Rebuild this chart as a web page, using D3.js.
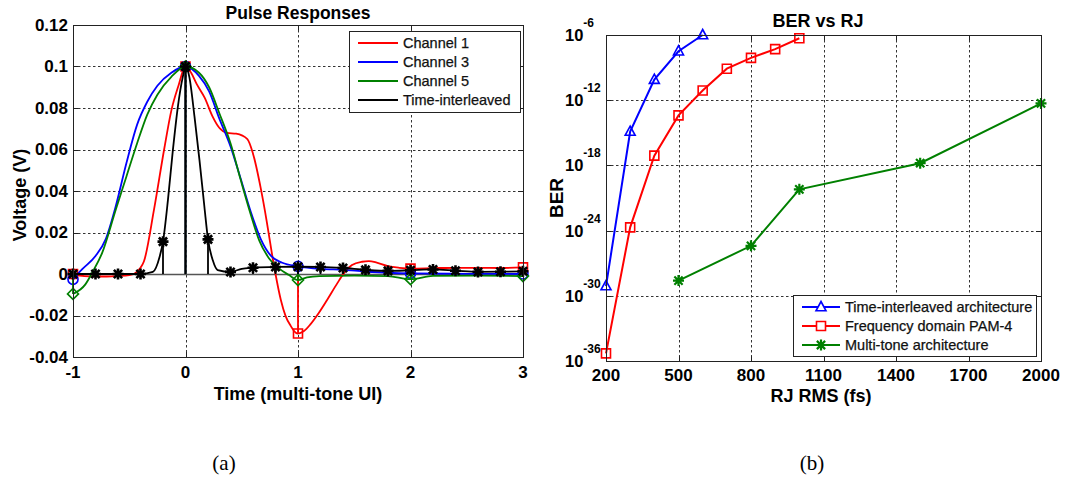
<!DOCTYPE html>
<html>
<head>
<meta charset="utf-8">
<script src="https://cdn.jsdelivr.net/npm/d3@7"></script>
<style>
body{margin:0;background:#fff;}
svg text{font-family:"Liberation Sans",Arial,sans-serif;}
</style>
</head>
<body>
<div id="viz-container"></div>
<script>
// ---- (a) pulse responses ----
let ch1Time = [-1,-0.9,-0.8,-0.7,-0.6,-0.5,-0.46,-0.4,-0.37,-0.28,-0.19,-0.125,-0.064,0,0.05,0.1,0.17,0.24,0.3,0.37,0.45,0.55,0.6,0.67,0.72,0.75,0.78,0.8,0.847,0.89,0.935,0.98,1,1.053,1.11,1.186,1.26,1.35,1.407,1.48,1.57,1.63,1.7,1.8,1.9,2,2.2,2.4,2.6,2.8,3];
let ch1Volt = [0,-0.001,-0.0012,-0.0012,-0.001,-0.0005,0,0.003,0.006,0.031,0.06,0.079,0.0905,0.1,0.097,0.0915,0.085,0.076,0.0705,0.068,0.0676,0.065,0.058,0.041,0.026,0.016,0.006,0,-0.0124,-0.0203,-0.025,-0.0283,-0.0287,-0.0275,-0.0243,-0.0187,-0.0124,-0.0044,0.0003,0.0043,0.0059,0.0062,0.0055,0.0038,0.003,0.0026,0.0028,0.003,0.003,0.0029,0.0032];

let ch3Time = [-1,-0.92,-0.8,-0.71,-0.62,-0.525,-0.43,-0.34,-0.25,-0.126,0,0.12,0.21,0.3,0.4,0.49,0.58,0.67,0.76,0.86,1,1.2,1.4,1.6,1.8,2,2.5,3];
let ch3Volt = [-0.0026,0.0022,0.0087,0.0167,0.0327,0.0535,0.072,0.083,0.0907,0.097,0.1,0.0955,0.088,0.075,0.0615,0.046,0.03,0.0167,0.0087,0.0054,0.0037,0.0025,0.002,0.0012,0.0006,0.0003,0.0001,0];

let ch5Time = [-1,-0.89,-0.83,-0.74,-0.62,-0.525,-0.43,-0.34,-0.25,-0.126,0,0.12,0.21,0.3,0.4,0.49,0.58,0.655,0.743,0.83,0.92,1,1.08,1.19,1.5,1.8,2,2.2,2.6,3];
let ch5Volt = [-0.0096,-0.005,0.0006,0.0103,0.031,0.047,0.063,0.0768,0.0864,0.095,0.1,0.097,0.09,0.0776,0.063,0.0455,0.0287,0.0162,0.0075,0.0027,-0.0005,-0.0029,-0.0016,-0.001,-0.0008,-0.001,-0.0025,-0.0009,-0.0008,-0.001];

let tiTime = [-1,-0.8,-0.6,-0.4,-0.29,-0.23,-0.2,-0.156,-0.112,-0.068,-0.024,0,0.034,0.08,0.124,0.168,0.2,0.242,0.286,0.4,0.5,0.6,0.8,1,1.2,1.4,1.6,1.8,2,2.2,2.4,2.6,2.8,3];
let tiVolt = [0,0,0,0,0.001,0.0083,0.0156,0.0357,0.0598,0.0806,0.095,0.1,0.095,0.0758,0.055,0.0324,0.0167,0.0067,0.0019,0.001,0.0025,0.003,0.0034,0.0035,0.0034,0.0029,0.002,0.0015,0.0018,0.0022,0.0016,0.001,0.0011,0.0013];

let chMarkTimes = [-1,0,1,2,3];
let tiMarkTimes = [-1,-0.8,-0.6,-0.4,-0.2,0,0.2,0.4,0.6,0.8,1,1.2,1.4,1.6,1.8,2,2.2,2.4,2.6,2.8,3];
let pulseXTicks = [-1,0,1,2,3];
let pulseYTicks = [-0.04,-0.02,0,0.02,0.04,0.06,0.08,0.1,0.12];
let pulseYLabels = ["-0.04","-0.02","0","0.02","0.04","0.06","0.08","0.1","0.12"];
let pulseNames = ["Channel 1","Channel 3","Channel 5","Time-interleaved"];

// ---- (b) BER vs RJ ----
let tiRJ = [200,300,400,500,600];
let tiBER = [7.9e-30,1.3e-15,7.9e-11,3.2e-8,1e-6];
let pamRJ = [200,300,400,500,600,700,800,900,1000];
let pamBER = [5e-36,2e-24,7.9e-18,4e-14,7.9e-12,7.9e-10,7.9e-9,5e-8,5e-7];
let mtRJ = [500,800,1000,1500,2000];
let mtBER = [2.5e-29,4e-26,6.3e-21,1.6e-18,5e-13];
let berXTicks = [200,500,800,1100,1400,1700,2000];
let berYTicks = [1e-36,1e-30,1e-24,1e-18,1e-12,1e-6];
let berYExp = ["-36","-30","-24","-18","-12","-6"];
let berNames = ["Time-interleaved architecture","Frequency domain PAM-4","Multi-tone architecture"];

let viz = d3.select("#viz-container")
    .append("svg")
        .attr("width", 1070)
        .attr("height", 480)
        .style("background-color", "white");

// marker shapes
let shapes = {
    square: s => `M${-s},${-s}H${s}V${s}H${-s}Z`,
    circle: s => `M${-s},0A${s},${s} 0 1,0 ${s},0A${s},${s} 0 1,0 ${-s},0`,
    diamond: s => `M0,${-s}L${s},0L0,${s}L${-s},0Z`,
    triangle: s => `M0,${-s * 1.1}L${s},${s * 0.75}L${-s},${s * 0.75}Z`,
    star: s => `M0,${-s}V${s}M${-s},0H${s}M${-s * 0.75},${-s * 0.75}L${s * 0.75},${s * 0.75}M${-s * 0.75},${s * 0.75}L${s * 0.75},${-s * 0.75}`
};

function drawFrame(g, x, y, xTicks, yTicks) {
    let [x0, x1] = x.range(), [y0, y1] = y.range();
    // dotted grid
    g.selectAll(".vgrid").data(xTicks.slice(1, -1)).enter().append("line")
        .attr("x1", d => Math.round(x(d)) + 0.5).attr("x2", d => Math.round(x(d)) + 0.5)
        .attr("y1", y1).attr("y2", y0)
        .attr("stroke", "#333").attr("stroke-dasharray", "2.5,2.5");
    g.selectAll(".hgrid").data(yTicks.slice(1, -1)).enter().append("line")
        .attr("y1", d => Math.round(y(d)) + 0.5).attr("y2", d => Math.round(y(d)) + 0.5)
        .attr("x1", x0).attr("x2", x1)
        .attr("stroke", "#333").attr("stroke-dasharray", "2.5,2.5");
    // inward ticks on all four sides
    xTicks.forEach(d => {
        let px = Math.round(x(d)) + 0.5;
        g.append("line").attr("x1", px).attr("x2", px).attr("y1", y0).attr("y2", y0 - 5).attr("stroke", "#222");
        g.append("line").attr("x1", px).attr("x2", px).attr("y1", y1).attr("y2", y1 + 5).attr("stroke", "#222");
    });
    yTicks.forEach(d => {
        let py = Math.round(y(d)) + 0.5;
        g.append("line").attr("y1", py).attr("y2", py).attr("x1", x0).attr("x2", x0 + 5).attr("stroke", "#222");
        g.append("line").attr("y1", py).attr("y2", py).attr("x1", x1).attr("x2", x1 - 5).attr("stroke", "#222");
    });
}

function drawBox(g, x, y) {
    let [x0, x1] = x.range(), [y0, y1] = y.range();
    g.append("rect")
        .attr("x", Math.round(x0) + 0.5).attr("y", Math.round(y1) + 0.5)
        .attr("width", Math.round(x1 - x0)).attr("height", Math.round(y0 - y1))
        .attr("fill", "none").attr("stroke", "#222");
}

// ================= (a) =================
let px = d3.scaleLinear().domain([-1, 3]).range([73, 523]);
let py = d3.scaleLinear().domain([-0.04, 0.12]).range([357, 25]);
let ga = viz.append("g");

drawFrame(ga, px, py, pulseXTicks, pulseYTicks);

// stem baseline
ga.append("line")
    .attr("x1", px(-1)).attr("x2", px(3))
    .attr("y1", Math.round(py(0)) + 0.5).attr("y2", Math.round(py(0)) + 0.5)
    .attr("stroke", "#555").attr("stroke-width", 1.3);

let pulseSeries = [
    {t: ch1Time, v: ch1Volt, marks: chMarkTimes, color: "#ff0000", shape: "square", size: 4.5},
    {t: ch3Time, v: ch3Volt, marks: chMarkTimes, color: "#0000ff", shape: "circle", size: 5},
    {t: ch5Time, v: ch5Volt, marks: chMarkTimes, color: "#008000", shape: "diamond", size: 5.5},
    {t: tiTime, v: tiVolt, marks: tiMarkTimes, color: "#000000", shape: "star", size: 5.5}
];

let pulseLine = d3.line()
    .x(d => px(d[0]))
    .y(d => py(d[1]))
    .curve(d3.curveMonotoneX);

pulseSeries.forEach(s => {
    let pts = s.t.map((t, i) => [t, s.v[i]]);
    let markPts = s.marks.map(m => pts.find(p => Math.abs(p[0] - m) < 1e-6));
    ga.append("path")
        .attr("d", pulseLine(pts))
        .attr("fill", "none").attr("stroke", s.color).attr("stroke-width", 1.8);
    // stems
    ga.selectAll(null).data(markPts).enter().append("line")
        .attr("x1", d => px(d[0])).attr("x2", d => px(d[0]))
        .attr("y1", py(0)).attr("y2", d => py(d[1]))
        .attr("stroke", s.color).attr("stroke-width", 1.8);
    ga.selectAll(null).data(markPts).enter().append("path")
        .attr("d", shapes[s.shape](s.size))
        .attr("transform", d => "translate(" + px(d[0]) + "," + py(d[1]) + ")")
        .attr("fill", "none").attr("stroke", s.color)
        .attr("stroke-width", s.shape == "star" ? 2.6 : 1.6);
});

drawBox(ga, px, py);

ga.selectAll(".ylab").data(pulseYTicks).enter().append("text")
    .attr("x", 68).attr("y", d => py(d))
    .attr("dy", "0.35em").attr("text-anchor", "end")
    .attr("font-size", 17).attr("font-weight", "bold")
    .text((d, i) => pulseYLabels[i]);
ga.selectAll(".xlab").data(pulseXTicks).enter().append("text")
    .attr("x", d => px(d)).attr("y", 378)
    .attr("text-anchor", "middle")
    .attr("font-size", 17).attr("font-weight", "bold")
    .text(d => d);

ga.append("text").text("Pulse Responses")
    .attr("x", 298).attr("y", 19).attr("text-anchor", "middle")
    .attr("font-size", 17.5).attr("font-weight", "bold");
ga.append("text").text("Time (multi-tone UI)")
    .attr("x", 298).attr("y", 400).attr("text-anchor", "middle")
    .attr("font-size", 18).attr("font-weight", "bold");
ga.append("text").text("Voltage (V)")
    .attr("transform", "translate(26,195) rotate(-90)").attr("text-anchor", "middle")
    .attr("font-size", 18).attr("font-weight", "bold");

// legend (a)
let legA = ga.append("g");
legA.append("rect").attr("x", 349.5).attr("y", 31.5).attr("width", 171).attr("height", 81)
    .attr("fill", "white").attr("stroke", "#222");
pulseSeries.forEach((s, i) => {
    let ly = 43 + i * 19;
    legA.append("line").attr("x1", 358).attr("x2", 398).attr("y1", ly).attr("y2", ly)
        .attr("stroke", s.color).attr("stroke-width", 2);
    legA.append("text").text(pulseNames[i])
        .attr("x", 403).attr("y", ly).attr("dy", "0.35em")
        .attr("font-size", 14.5).attr("fill", "#111")
        .attr("stroke", "#111").attr("stroke-width", 0.25);
});

// ================= (b) =================
let bx = d3.scaleLinear().domain([200, 2000]).range([606, 1041]);
let by = d3.scaleLog().domain([1e-36, 1e-6]).range([361, 35]);
let gb = viz.append("g");

drawFrame(gb, bx, by, berXTicks, berYTicks);

let berSeries = [
    {x: tiRJ, y: tiBER, color: "#0000ff", shape: "triangle", size: 5},
    {x: pamRJ, y: pamBER, color: "#ff0000", shape: "square", size: 4.5},
    {x: mtRJ, y: mtBER, color: "#008000", shape: "star", size: 5.5}
];

let berLine = d3.line().x(d => bx(d[0])).y(d => by(d[1]));

berSeries.forEach(s => {
    let pts = s.x.map((v, i) => [v, s.y[i]]);
    gb.append("path")
        .attr("d", berLine(pts))
        .attr("fill", "none").attr("stroke", s.color).attr("stroke-width", 2);
    gb.selectAll(null).data(pts).enter().append("path")
        .attr("d", shapes[s.shape](s.size))
        .attr("transform", d => "translate(" + bx(d[0]) + "," + by(d[1]) + ")")
        .attr("fill", "none").attr("stroke", s.color)
        .attr("stroke-width", s.shape == "star" ? 2.2 : 1.6);
});

drawBox(gb, bx, by);

gb.selectAll(".xlab").data(berXTicks).enter().append("text")
    .attr("x", d => bx(d)).attr("y", 381)
    .attr("text-anchor", "middle")
    .attr("font-size", 17).attr("font-weight", "bold")
    .text(d => d);
let yl = gb.selectAll(".ylab").data(berYTicks).enter().append("text")
    .attr("x", 565).attr("y", d => by(d) + 6)
    .attr("font-weight", "bold");
yl.append("tspan").text("10").attr("font-size", 16.5);
yl.append("tspan").text((d, i) => berYExp[i]).attr("font-size", 12).attr("dy", -14);

gb.append("text").text("BER vs RJ")
    .attr("x", 818).attr("y", 27).attr("text-anchor", "middle")
    .attr("font-size", 18).attr("font-weight", "bold");
gb.append("text").text("RJ RMS (fs)")
    .attr("x", 821).attr("y", 402).attr("text-anchor", "middle")
    .attr("font-size", 18).attr("font-weight", "bold");
gb.append("text").text("BER")
    .attr("transform", "translate(563,198) rotate(-90)").attr("text-anchor", "middle")
    .attr("font-size", 19).attr("font-weight", "bold");

// legend (b)
let legB = gb.append("g");
legB.append("rect").attr("x", 793.5).attr("y", 295.5).attr("width", 243).attr("height", 61)
    .attr("fill", "white").attr("stroke", "#222");
berSeries.forEach((s, i) => {
    let ly = 307 + i * 19;
    legB.append("line").attr("x1", 802).attr("x2", 840).attr("y1", ly).attr("y2", ly)
        .attr("stroke", s.color).attr("stroke-width", 2);
    legB.append("path").attr("d", shapes[s.shape](s.size))
        .attr("transform", "translate(821," + ly + ")")
        .attr("fill", "white").attr("stroke", s.color)
        .attr("stroke-width", s.shape == "star" ? 2.2 : 1.6);
    legB.append("text").text(berNames[i])
        .attr("x", 845).attr("y", ly).attr("dy", "0.35em")
        .attr("font-size", 14.5).attr("fill", "#111")
        .attr("stroke", "#111").attr("stroke-width", 0.25);
});

// captions
viz.append("text").text("(a)").attr("x", 224).attr("y", 470).attr("text-anchor", "middle")
    .style("font-family", "'Liberation Serif','Times New Roman',serif").attr("font-size", 21);
viz.append("text").text("(b)").attr("x", 812).attr("y", 470).attr("text-anchor", "middle")
    .style("font-family", "'Liberation Serif','Times New Roman',serif").attr("font-size", 21);
</script>
</body>
</html>
